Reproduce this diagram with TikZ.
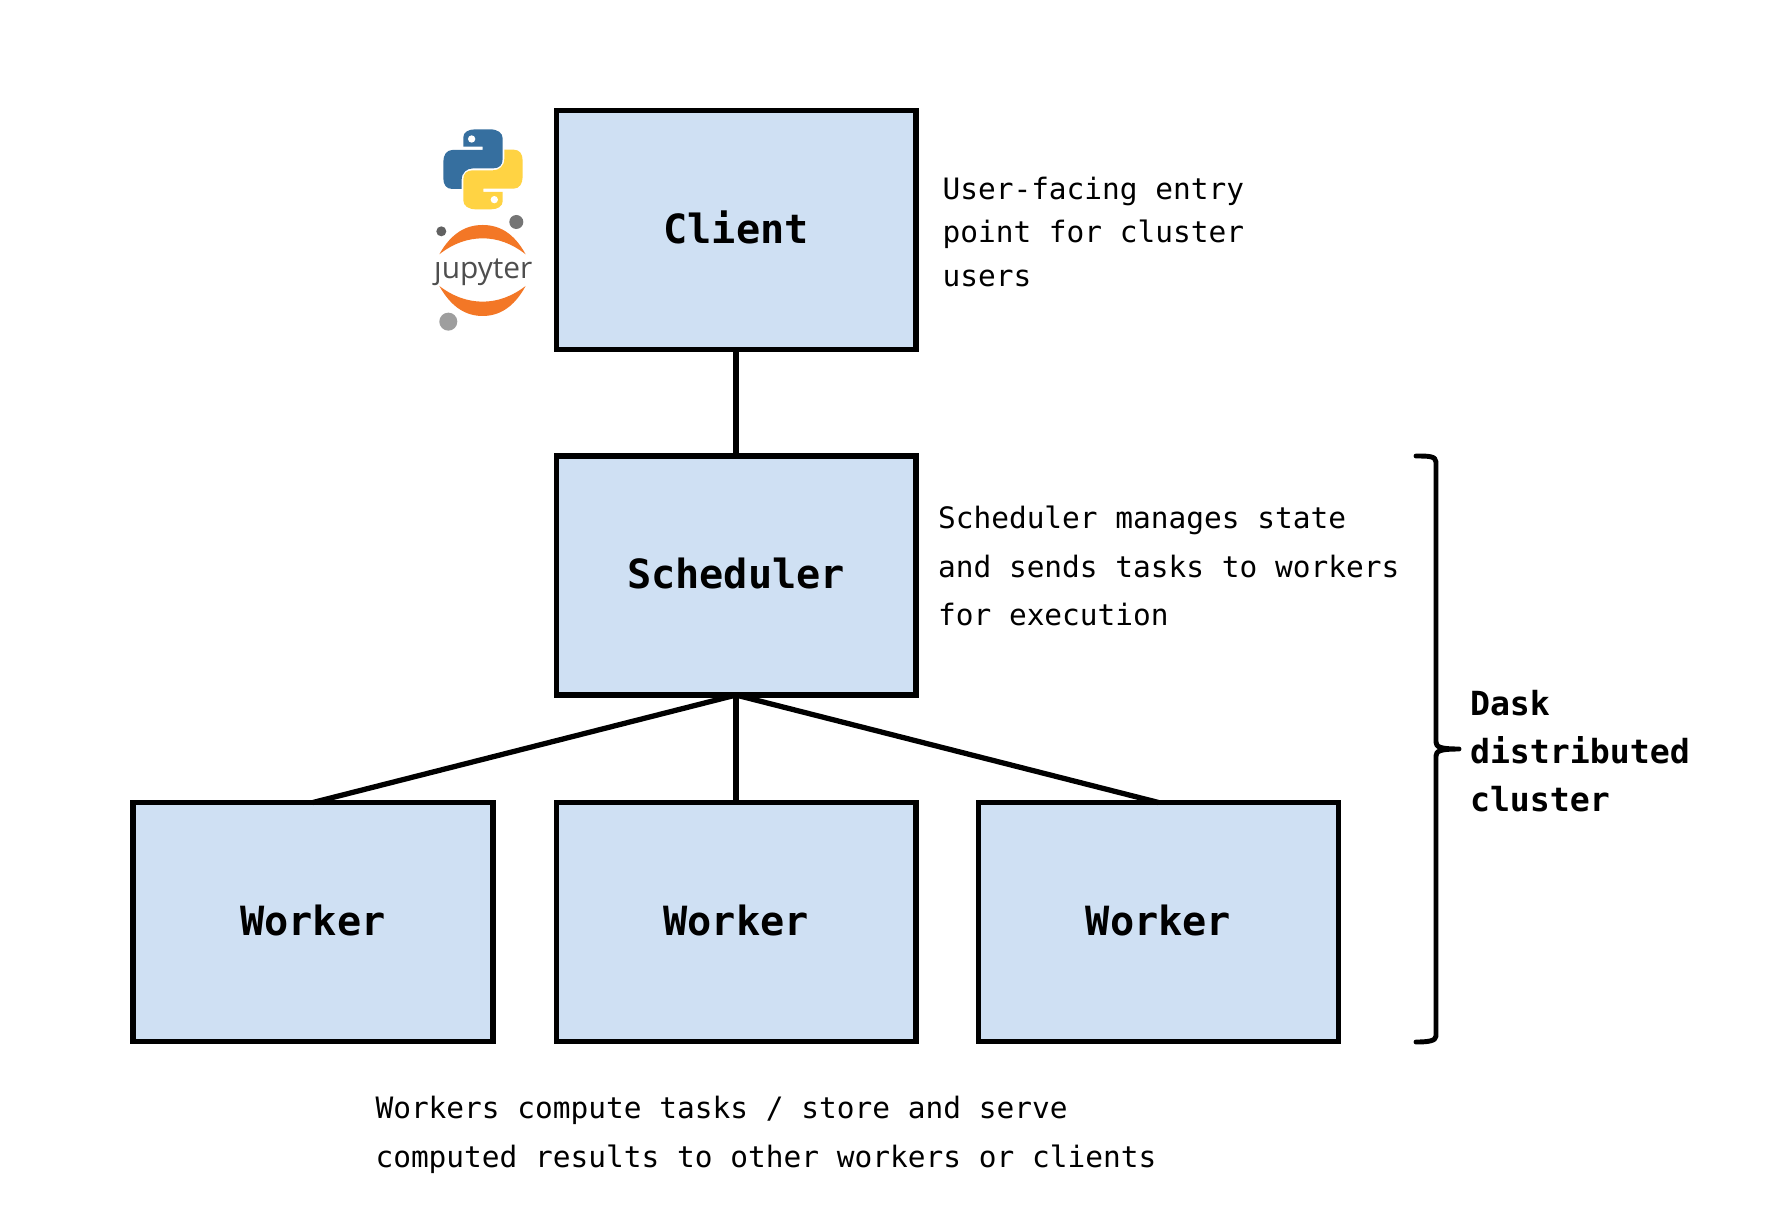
\documentclass[tikz,border=0pt]{standalone}
\usepackage{fontspec}
\usetikzlibrary{shadows}
\newfontfamily\monof{DejaVu Sans Mono}
\newfontfamily\jupf{Open Sans}
\definecolor{boxblue}{HTML}{CFE0F3}
\definecolor{pyblue}{HTML}{366F9F}
\definecolor{pyyellow}{HTML}{FFD343}
\definecolor{juporange}{HTML}{F37726}
\definecolor{jupgrey}{HTML}{4E4E4E}
\tikzset{
  px/.style={x=0.02cm,y=-0.02cm},
  stage/.style={draw=black,fill=boxblue,line width=3.1pt,rectangle,inner sep=0pt,outer sep=0pt,
    minimum width=361*0.5669pt,minimum height=240*0.5669pt,
    text height=17pt,text depth=2pt,
    font=\monof\bfseries\fontsize{22.9pt}{26pt}\selectfont,
    drop shadow={shadow xshift=0pt,shadow yshift=-1.2pt,opacity=0.3,fill=black}},
  link/.style={line width=3pt,draw=black},
  note/.style={anchor=west,inner sep=0pt,outer sep=0pt,align=left,font=\monof\fontsize{16.78pt}{27.5pt}\selectfont},
  notetight/.style={note,font=\monof\fontsize{16.78pt}{24.6pt}\selectfont},
  clusterlabel/.style={anchor=west,inner sep=0pt,outer sep=0pt,align=left,font=\monof\bfseries\fontsize{18.9pt}{27.5pt}\selectfont},
  logo/.style={x=0.02cm/3,y=-0.02cm/3},
}
\begin{document}
\begin{tikzpicture}[px]
\useasboundingbox (0,0) rectangle (1768,1220);
\fill[white] (0,0) rectangle (1768,1220);

\node[stage] (client) at (736,230) {Client};
\node[stage] (sched) at (736,575.5) {Scheduler};
\node[stage] (w1) at (313,922) {Worker};
\node[stage] (w2) at (736,922) {Worker};
\node[stage] (w3) at (1158.5,922) {Worker};

\draw[link] (client.south) -- (sched.north);
\draw[link] (sched.south) -- (w1.north);
\draw[link] (sched.south) -- (w2.north);
\draw[link] (sched.south) -- (w3.north);

\node[notetight] (n1) at (942.5,232) {User-facing entry\\point for cluster\\users};
\node[note] (n2) at (938,566) {Scheduler manages state\\and sends tasks to workers\\for execution};
\node[note] (n3) at (375.5,1135) {Workers compute tasks / store and serve\\computed results to other workers or clients};
\node[clusterlabel] (dask) at (1470,751) {Dask\\distributed\\cluster};

% bracket
\draw[line width=2.8pt,line cap=round,line join=round]
  (1416,456) .. controls (1428,456) and (1436,456) .. (1436,462)
  -- (1436,742) .. controls (1436,747) and (1440,749) .. (1459,749)
  .. controls (1440,749) and (1436,751) .. (1436,756)
  -- (1436,1036) .. controls (1436,1041) and (1428,1042) .. (1416,1042);

% Python logo
\begin{scope}[logo,shift={(1230,300)}]
  \def\pysnake{(160,140) -- (218,140) -- (218,150) -- (127,150)
    .. controls (110,150) and (100,165) .. (100,185) -- (100,235)
    .. controls (100,255) and (110,267) .. (127,267) -- (155,267) -- (155,240)
    .. controls (155,218) and (170,205) .. (190,205) -- (250,205)
    .. controls (268,205) and (278,195) .. (278,178) -- (278,115)
    .. controls (278,98) and (262,88) .. (240,88) -- (195,88)
    .. controls (175,88) and (160,97) .. (160,112) -- cycle}
  \fill[pyblue] \pysnake;
  \fill[pyyellow,rotate around={180:(219,208)}] \pysnake;
  \fill[white] (185,117) circle (11);
  \fill[white] (253,299) circle (11);
  % Jupyter logo
  \fill[juporange] (88,463) .. controls (125,397) and (170,375) .. (218,375)
    .. controls (266,375) and (311,397) .. (347,463)
    .. controls (305,430) and (262,415) .. (218,415)
    .. controls (174,415) and (130,430) .. (88,463) -- cycle;
  \fill[juporange] (88,558) .. controls (125,624) and (170,648) .. (218,648)
    .. controls (266,648) and (311,624) .. (347,558)
    .. controls (305,590) and (262,605) .. (218,605)
    .. controls (174,605) and (130,590) .. (88,558) -- cycle;
  \fill[fill=black!54] (319,366) circle (21);
  \fill[fill=black!62] (94,394) circle (15);
  \fill[fill=black!38] (115,665) circle (27);
  \node[inner sep=0pt,text=jupgrey,font=\jupf\fontsize{17pt}{20pt}\selectfont] (juptext) at (220,517) {\char"0237 upyter};
\end{scope}
\end{tikzpicture}
\end{document}
